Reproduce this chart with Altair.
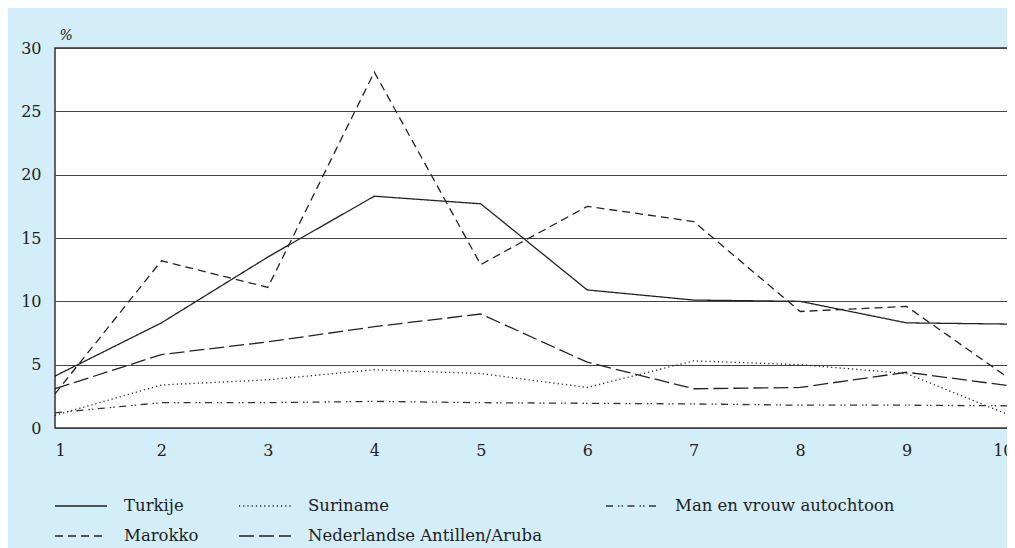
import altair as alt
import pandas as pd

# x categories
x_vals = [1, 2, 3, 4, 5, 6, 7, 8, 9, 10]

# series values (%)
turkije = [4.1, 8.3, 13.5, 18.3, 17.7, 10.9, 10.1, 10.0, 8.3, 8.2]
marokko = [2.7, 13.2, 11.1, 28.1, 12.9, 17.5, 16.3, 9.2, 9.6, 3.7]
suriname = [1.0, 3.4, 3.8, 4.6, 4.3, 3.2, 5.3, 5.0, 4.3, 0.9]
antillen = [3.1, 5.8, 6.8, 8.0, 9.0, 5.2, 3.1, 3.2, 4.4, 3.3]
autochtoon = [1.2, 2.0, 2.0, 2.1, 2.0, 1.95, 1.9, 1.8, 1.8, 1.75]

series_names = ["Turkije", "Marokko", "Suriname",
                "Nederlandse Antillen/Aruba", "Man en vrouw autochtoon"]
series_values = [turkije, marokko, suriname, antillen, autochtoon]
y_ticks = [0, 5, 10, 15, 20, 25, 30]

rows = []
for name, vals in zip(series_names, series_values):
    for xv, yv in zip(x_vals, vals):
        rows.append({"x": xv, "pct": yv, "serie": name})
df = pd.DataFrame(rows)

FONT = "DejaVu Serif"
INK = "#222222"

styles = {
    "Turkije": ([1, 0], INK, -1, 431),
    "Marokko": ([8, 5], INK, -1, 461),
    "Suriname": ([1.2, 3], INK, 183, 431),
    "Nederlandse Antillen/Aruba": ([15, 5], INK, 183, 461),
    "Man en vrouw autochtoon": ([7, 5, 1.5, 2, 1.5, 4.5], "#333333", 550, 431),
}

x_enc = alt.X("x:Q", scale=alt.Scale(domain=[1, 10], nice=False),
              axis=alt.Axis(values=x_vals, format="d", grid=False, ticks=False,
                            domain=False, labelPadding=14, title=None,
                            labelFontSize=16, labelFont=FONT, labelColor=INK))
y_enc = alt.Y("pct:Q", scale=alt.Scale(domain=[0, 30], nice=False),
              axis=alt.Axis(values=y_ticks, grid=True, gridColor="#444444",
                            gridWidth=1, ticks=False, domain=False,
                            labelPadding=14, labelFontSize=16, labelFont=FONT,
                            labelColor=INK, title="%", titleAngle=0,
                            titleAlign="left", titleBaseline="bottom",
                            titleX=4, titleY=-6, titleFont=FONT,
                            titleFontSize=14, titleFontWeight="normal",
                            titleFontStyle="italic", titleColor=INK))

layers = []
for name in series_names:
    dash, col, lx, ly = styles[name]
    layer = (
        alt.Chart(df)
        .transform_filter(alt.datum.serie == name)
        .mark_line(color=col, strokeWidth=1.3)
        .encode(
            x=x_enc,
            y=y_enc,
            strokeDash=alt.StrokeDash(
                "serie:N",
                scale=alt.Scale(domain=[name], range=[dash]),
                legend=alt.Legend(
                    title=None, orient="none", legendX=lx, legendY=ly,
                    symbolType="stroke", symbolSize=2704,
                    symbolStrokeWidth=1.3, symbolStrokeColor=col,
                    labelOffset=16, labelFont=FONT, labelFontSize=16.5,
                    labelColor=INK, padding=0, labelLimit=400,
                ),
            ),
        )
    )
    layers.append(layer)

chart = (
    alt.layer(*layers)
    .resolve_scale(strokeDash="independent")
    .resolve_legend(strokeDash="independent")
    .properties(
        width=958, height=380,
        background="#d3edf9",
        padding={"left": 47, "top": 40, "right": -6, "bottom": 120},
        autosize=alt.AutoSizeParams(type="none"),
    )
    .configure_view(fill="white", stroke="#333333", strokeWidth=1.5)
)

chart.save("out.html", embed_options={"renderer": "svg", "actions": False})
